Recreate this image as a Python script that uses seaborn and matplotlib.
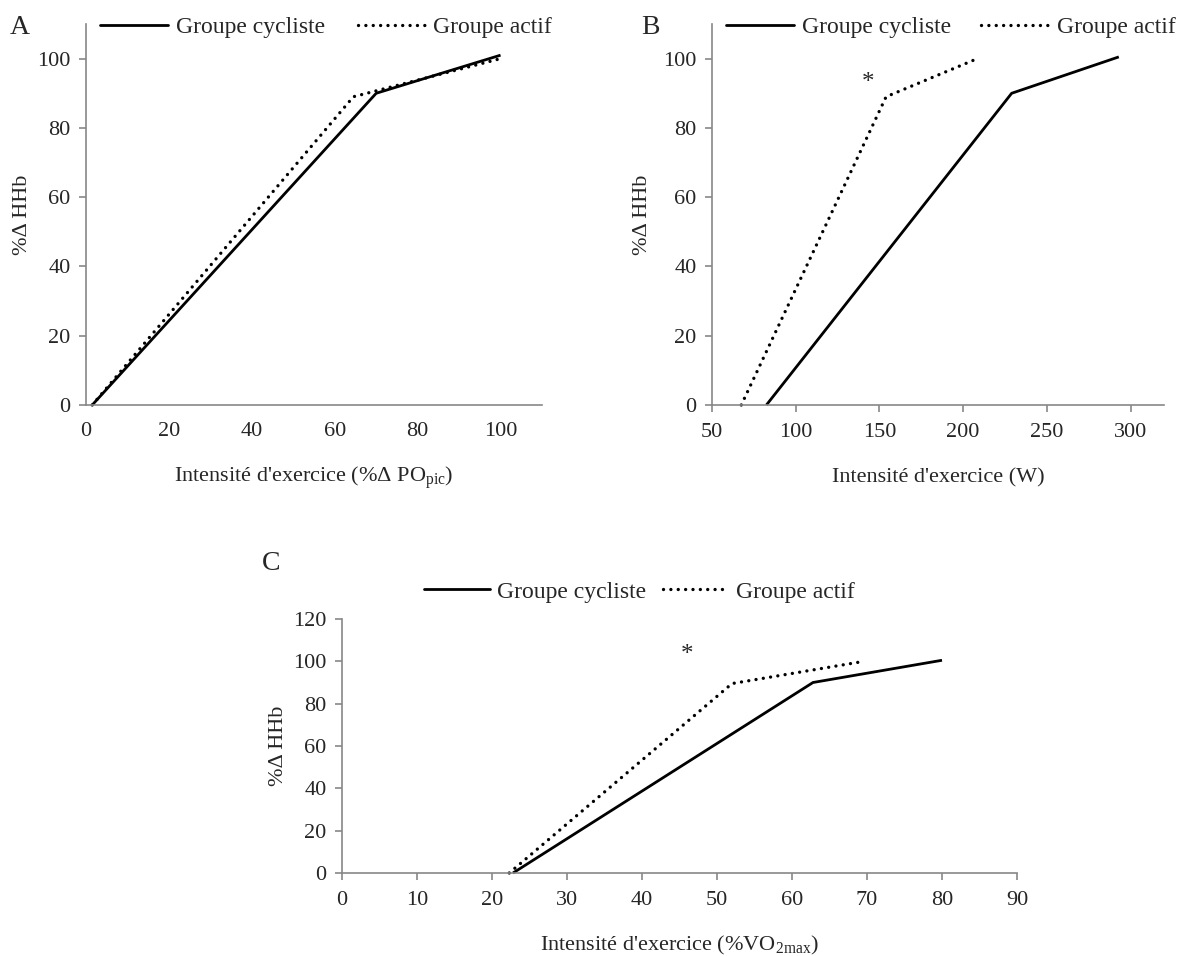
import matplotlib
matplotlib.use("Agg")
import matplotlib.pyplot as plt
import seaborn as sns
import pandas as pd
from matplotlib.lines import Line2D

# ---------------- data ----------------
groups = ["Groupe cycliste", "Groupe actif"]

a_x_cyc = [1.5, 70, 100]
a_y_cyc = [0, 90, 101]
a_x_act = [1.5, 64.5, 100]
a_y_act = [0, 89, 100]

b_x_cyc = [82.5, 229, 293]
b_y_cyc = [0, 90, 100.5]
b_x_act = [67.5, 154, 206]
b_y_act = [0, 89, 99.5]

c_x_cyc = [22.8, 62.8, 80]
c_y_cyc = [0, 90, 100.5]
c_x_act = [22.3, 52, 69.6]
c_y_act = [0, 89.5, 100]

b_star = (143, 93)
c_star = (46, 103)

a_xticks = [0, 20, 40, 60, 80, 100]
b_xticks = [50, 100, 150, 200, 250, 300]
c_xticks = [0, 10, 20, 30, 40, 50, 60, 70, 80, 90]
ab_yticks = [0, 20, 40, 60, 80, 100]
c_yticks = [0, 20, 40, 60, 80, 100, 120]

# ---------------- style ----------------
sns.set_style("white")
plt.rcParams["font.family"] = ["Liberation Serif", "DejaVu Serif"]
plt.rcParams["mathtext.fontset"] = "custom"
plt.rcParams["mathtext.rm"] = "Liberation Serif"
plt.rcParams["mathtext.it"] = "Liberation Serif:italic"
plt.rcParams["mathtext.bf"] = "Liberation Serif:bold"

GRAY = "#878787"
TICK_FS = 16
LAB_FS = 16
LEG_FS = 17
LW = 2.0
DLW = 2.4
DOT = (0, (0.01, 2.2))

W, H = 1187, 956
fig = plt.figure(figsize=(W / 100, H / 100), dpi=100)


def frac(l, t, r, b):
    return [l / W, 1 - b / H, (r - l) / W, (b - t) / H]


def make_df(xc, yc, xa, ya):
    return pd.DataFrame({
        "x": list(xc) + list(xa),
        "y": list(yc) + list(ya),
        "g": [groups[0]] * len(xc) + [groups[1]] * len(xa),
    })


def draw(ax, df):
    for g, ls, lw in zip(groups, ["-", DOT], [LW, DLW]):
        sub = df[df["g"] == g]
        sns.lineplot(data=sub, x="x", y="y", ax=ax, color="black", lw=lw,
                     estimator=None, sort=False, legend=False)
        ln = ax.lines[-1]
        ln.set_linestyle(ls)
        ln.set_dash_capstyle("round")
        ln.set_solid_capstyle("butt")
        ln.set_solid_joinstyle("round")
        ln.set_clip_on(False)


def style(ax, xlim, ylim, xticks, yticks, xlabel, xtick_len=5, xpad=8,
          xlabelpad=18, ylabelpad=8):
    sns.despine(ax=ax)
    for s in ["left", "bottom"]:
        ax.spines[s].set_color(GRAY)
        ax.spines[s].set_linewidth(1.2)
    ax.set_xlim(*xlim)
    ax.set_ylim(*ylim)
    ax.set_xticks(xticks)
    ax.set_yticks(yticks)
    ax.tick_params(axis="y", direction="out", length=5, width=1.2, color=GRAY,
                   labelsize=TICK_FS, pad=6, left=True)
    ax.tick_params(axis="x", direction="out", length=xtick_len, width=1.2, color=GRAY,
                   labelsize=TICK_FS, pad=xpad, bottom=True)
    ax.set_xlabel(xlabel, fontsize=LAB_FS, labelpad=xlabelpad)
    ax.set_ylabel("%Δ HHb", fontsize=LAB_FS, labelpad=ylabelpad)


def legend(ax, x, y, handlelen, colsp):
    handles = [Line2D([], [], color="black", lw=LW, ls="-"),
               Line2D([], [], color="black", lw=DLW, ls=DOT, dash_capstyle="round")]
    ax.legend(handles, groups, loc="center left", bbox_to_anchor=(x / W, 1 - y / H),
              bbox_transform=fig.transFigure, ncol=2, frameon=False, fontsize=LEG_FS,
              handlelength=handlelen, handletextpad=0.3, columnspacing=colsp,
              borderpad=0, borderaxespad=0)


# Panel A
axA = fig.add_axes(frac(86, 24, 542, 405))
draw(axA, make_df(a_x_cyc, a_y_cyc, a_x_act, a_y_act))
style(axA, (0, 110), (0, 110), a_xticks, ab_yticks,
      "Intensité d'exercice (%Δ PO$_{\\mathregular{pic}}$)", xtick_len=0, xpad=12,
      xlabelpad=17, ylabelpad=4)
legend(axA, 100, 27, 2.9, 1.4)
fig.text(10 / W, 1 - 27 / H, "A", fontsize=20, va="center", ha="left")

# Panel B
axB = fig.add_axes(frac(712, 24, 1164, 405))
draw(axB, make_df(b_x_cyc, b_y_cyc, b_x_act, b_y_act))
style(axB, (50, 320), (0, 110), b_xticks, ab_yticks, "Intensité d'exercice (W)",
      xlabelpad=19, ylabelpad=8)
axB.text(*b_star, "*", fontsize=18, ha="center", va="center")
legend(axB, 726, 27, 2.9, 1.3)
fig.text(641 / W, 1 - 27 / H, "B", fontsize=20, va="center", ha="left")

# Panel C
axC = fig.add_axes(frac(342, 619, 1017, 873))
draw(axC, make_df(c_x_cyc, c_y_cyc, c_x_act, c_y_act))
style(axC, (0, 90), (0, 120), c_xticks, c_yticks,
      "Intensité d'exercice (%VO$_{\\mathregular{2max}}$)", xlabelpad=17, ylabelpad=4)
axC.text(*c_star, "*", fontsize=18, ha="center", va="center")
legend(axC, 424, 592, 2.8, 0.7)
fig.text(262 / W, 1 - 563 / H, "C", fontsize=20, va="center", ha="left")

fig.savefig("out.png", dpi=100)
